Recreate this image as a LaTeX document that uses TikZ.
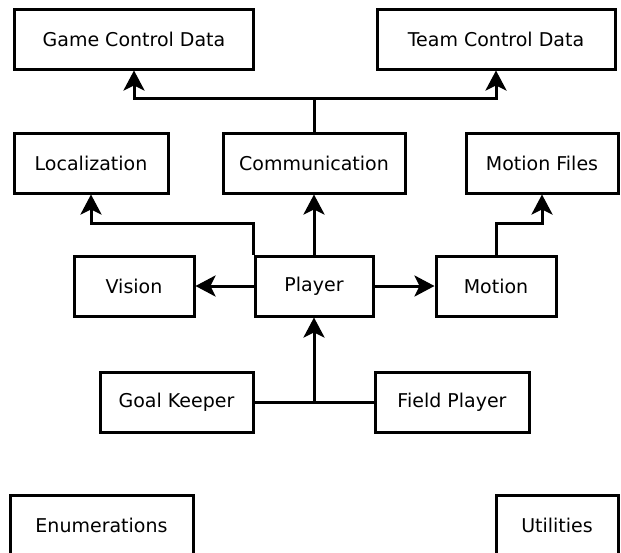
\documentclass[tikz,border=0pt]{standalone}
\usepackage{fontspec}
\setmainfont{DejaVu Sans}
\usepackage{tikz}
\usetikzlibrary{arrows.meta}
\usetikzlibrary{positioning}

\begin{document}
\begin{tikzpicture}[>={Stealth[length=10pt,width=10.5pt,inset=2.5pt]}, line width=1.5pt, on grid,
    module/.style={draw, rectangle, minimum height=30pt, inner sep=0pt, font=\fontsize{9.5}{11}\selectfont}]

       \useasboundingbox (0,0) rectangle (310.5pt,-276pt);

       \node[module, minimum width=59pt] at (157pt,-143pt) (Player) {Player};
       \node[module, minimum width=91pt, above=61.5pt of Player] (Communication) {Communication};
       \path[->] (Player) edge (Communication);
       \node[module, minimum width=60pt, left=90pt of Player] (Vision) {Vision};
       \path[->] (Player) edge (Vision);
       \node[module, minimum width=60pt, right=91pt of Player] (Motion) {Motion};
       \path[->] (Player) edge (Motion);
       \node[module, minimum width=119.5pt, above=123.5pt of Vision] (Game_Data) {Game Control Data};
       \node[module, minimum width=119pt, above=123.5pt of Motion] (Team_Data) {Team Control Data};
       \coordinate[above=16.5pt of Communication.north] (split);
       \draw (Communication) -- (split);
       \draw[->] (split) -| (Game_Data);
       \draw[->] (split) -| (Team_Data);
       \node[module, minimum width=77pt, left=111.5pt of Communication] (Localization) {Localization};
       \draw[->] (Player.north west) -- ++(0,15.5pt) -| (Localization);
       \node[module, minimum width=76pt, right=114pt of Communication] (Motion_Files) {Motion Files};
       \draw[->] (Motion) -- ++(0,31.5pt) -| (Motion_Files);

       \node[module, minimum width=76.5pt, below left=58.25pt and 68.75pt of Player] (Goal_Keeper) {Goal Keeper};
       \node[module, minimum width=77pt, below right=58.25pt and 69pt of Player] (Field_Player) {Field Player};
       \coordinate (join) at (Goal_Keeper.east -| Player.south);
       \draw (Goal_Keeper) -- (join);
       \draw (Field_Player) -- (join);
       \path[->] (join) edge (Player);

       \node[module, minimum width=91.5pt, below left=61.5pt and 37.5pt of Goal_Keeper] (Enumerations) {Enumerations};
       \node[module, minimum width=61pt, below right=61.5pt and 52.5pt of Field_Player] (Utilities) {Utilities};

\end{tikzpicture}
\end{document}
